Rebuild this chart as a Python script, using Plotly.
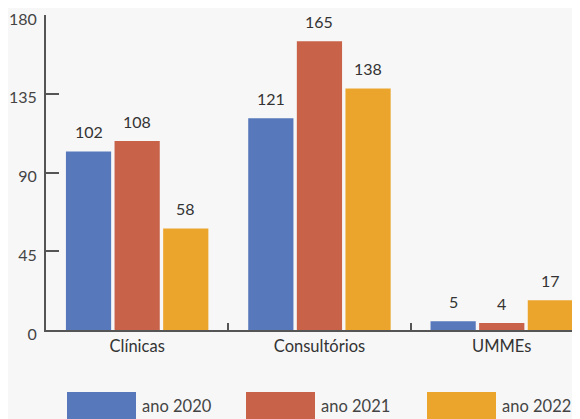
import plotly.graph_objects as go

# dados
categorias = ["Clínicas", "Consultórios", "UMMEs"]
anos = ["ano 2020", "ano 2021", "ano 2022"]
valores_2020 = [102, 121, 5]
valores_2021 = [108, 165, 4]
valores_2022 = [58, 138, 17]
tick_y = [0, 45, 90, 135, 180]

series = [valores_2020, valores_2021, valores_2022]
cores = ["#5779bb", "#c86249", "#eba52d"]

# a página tem 8px de margem no body
W, H = 572, 411
ML, MR, MT, MB = 38, 0, 7, 89
plot_w = W - ML - MR
plot_h = H - MT - MB
base_y = MT + plot_h  # linha do eixo x, em px da figura
cat_px = 182.3        # largura de cada categoria em px

fig = go.Figure()
for nome, vals, cor in zip(anos, series, cores):
    fig.add_trace(go.Bar(x=categorias, y=vals, name=nome, marker_color=cor,
                         marker_line_width=0, showlegend=False))

# rótulos de valor acima das barras
slot = 48.5
for i, vals in enumerate(series):
    for cat, v in zip(categorias, vals):
        fig.add_annotation(x=cat, y=v, text=str(v), showarrow=False,
                           xshift=(i - 1) * slot, yanchor="bottom", yshift=8.5,
                           font=dict(size=16, color="#333333"))

# legenda manual (amostras largas)
leg_px = [59, 238, 419]
for px, nome, cor in zip(leg_px, anos, cores):
    fig.add_shape(type="rect", xref="paper", yref="paper",
                  x0=(px - ML) / plot_w, x1=(px + 69 - ML) / plot_w,
                  y0=(base_y - 384) / plot_h, y1=(base_y - 425) / plot_h,
                  fillcolor=cor, line_width=0)
    fig.add_annotation(xref="paper", yref="paper", x=(px + 73 - ML) / plot_w,
                       y=(base_y - 398) / plot_h, text=nome, showarrow=False,
                       xanchor="left", yanchor="middle",
                       font=dict(size=16.5, color="#444444"))

fig.update_layout(
    width=W, height=H,
    margin=dict(l=ML, r=MR, t=MT, b=MB),
    paper_bgcolor="#f7f7f7", plot_bgcolor="#f7f7f7",
    barmode="group", bargap=0.2, bargroupgap=0.07,
    font=dict(family="Lato, Open Sans, sans-serif", size=16, color="#444444"),
    showlegend=False,
)
fig.update_xaxes(range=[-0.5, -0.5 + plot_w / cat_px], showline=True, linecolor="#555555",
                 linewidth=2, ticks="inside", tickson="boundaries", ticklen=7,
                 tickwidth=2, tickcolor="#555555", showgrid=False,
                 tickfont=dict(size=16.5, color="#333333"))
fig.update_yaxes(range=[0, 180], tickvals=tick_y, showline=True, linecolor="#555555",
                 linewidth=2, ticks="inside", ticklen=13, tickwidth=2,
                 tickcolor="#555555", showgrid=False, zeroline=False,
                 ticklabelshift=4, ticklabelstandoff=4, ticklabeloverflow="allow",
                 tickfont=dict(size=16, color="#444444"))

fig.write_html("out.html")
